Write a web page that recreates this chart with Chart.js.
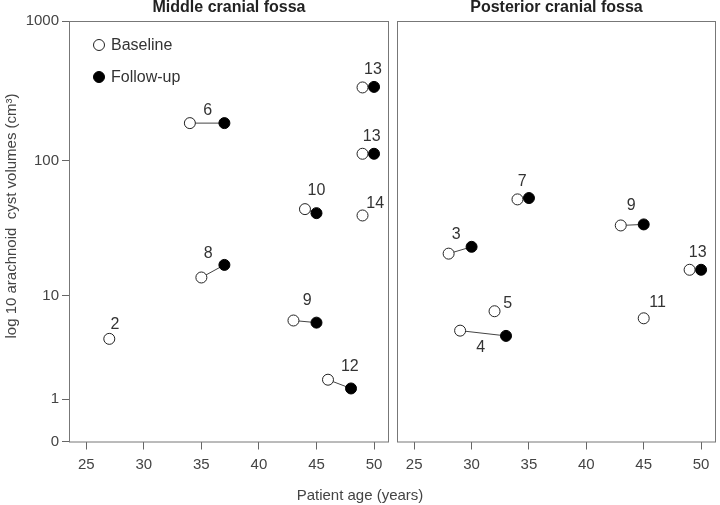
<!DOCTYPE html>
<html>
<head>
<meta charset="utf-8">
<script src="https://cdn.jsdelivr.net/npm/chart.js@4/dist/chart.umd.min.js"></script>
<style>
  body { margin: 0; background: #fff; }
  #wrap { position: relative; width: 720px; height: 505px; font-family: "Liberation Sans", Arial, sans-serif; }
  .panel { position: absolute; top: 0; height: 505px; }
  #xtitle { position: absolute; left: 210px; width: 300px; top: 486px; text-align: center; font-size: 15px; color: #444; }
</style>
</head>
<body>
<div id="wrap">
  <div class="panel" style="left:0;width:392px"><canvas id="middle"></canvas></div>
  <div class="panel" style="left:392px;width:328px"><canvas id="posterior"></canvas></div>
  <div id="xtitle">Patient age (years)</div>
</div>
<script>
    // Middle cranial fossa
    const midPatients = ['2', '6', '8', '9', '10', '12', '13', '13', '14'];
    const midBaseAge = [27, 34, 35, 43, 44, 46, 49, 49, 49];
    const midBaseVol = [4.4, 186, 13.8, 6.3, 44.5, 1.76, 335, 112, 40];
    const midFollowAge = [null, 37, 37, 45, 45, 48, 50, 50, null];
    const midFollowVol = [null, 186, 17.2, 6.05, 41.6, 1.39, 338, 112, null];
    const midLabelAge = [27.5, 35.55, 35.6, 44.2, 45.0, 47.9, 49.9, 49.8, 50.1];
    const midLabelVol = [5.8, 229, 20.9, 9.1, 61, 2.4, 453, 150, 49];

    // Posterior cranial fossa
    const postPatients = ['3', '4', '5', '7', '9', '11', '13'];
    const postBaseAge = [28, 29, 32, 34, 43, 45, 49];
    const postBaseVol = [20.9, 5.18, 7.5, 52.4, 33.8, 6.57, 15.8];
    const postFollowAge = [30, 33, null, 35, 45, null, 50];
    const postFollowVol = [23.5, 4.67, null, 53.6, 34.4, null, 15.8];
    const postLabelAge = [28.65, 30.8, 33.15, 34.4, 43.9, 46.2, 49.7];
    const postLabelVol = [28.9, 3.65, 8.7, 70, 47.4, 8.86, 21.2];

    const xTicks = [25, 30, 35, 40, 45, 50];
    const yTicks = [0, 1, 10, 100, 1000];
    const yTickLabels = ['0', '1', '10', '100', '1000'];

    // y axis is log10(v + 1)
    const toLog = v => Math.log10(v + 1);
    const FONT = '"Liberation Sans", Arial, sans-serif';

    function buildDatasets(baseAge, baseVol, followAge, followVol) {
        const base = baseAge.map((a, i) => ({ x: a, y: toLog(baseVol[i]) }));
        const follow = [];
        const links = [];
        followAge.forEach((a, i) => {
            if (a === null) return;
            follow.push({ x: a, y: toLog(followVol[i]) });
            links.push({ x: baseAge[i], y: toLog(baseVol[i]) });
            links.push({ x: a, y: toLog(followVol[i]) });
            links.push({ x: a, y: null });
        });
        return [
            {
                label: 'Baseline', data: base, order: 1,
                pointRadius: 5.5, pointHoverRadius: 5.5,
                backgroundColor: '#fff', borderColor: '#222', borderWidth: 1
            },
            {
                label: 'Follow-up', data: follow, order: 1,
                pointRadius: 5.5, pointHoverRadius: 5.5,
                backgroundColor: '#000', borderColor: '#000', borderWidth: 1
            },
            {
                label: 'link', data: links, order: 3, showLine: true, spanGaps: false,
                pointRadius: 0, borderColor: '#444', borderWidth: 1
            }
        ];
    }

    const panelPlugin = {
        id: 'panel',
        afterDraw(chart, args, opts) {
            const { ctx, chartArea: a, scales } = chart;
            ctx.save();
            ctx.strokeStyle = '#777';
            ctx.lineWidth = 1;
            ctx.strokeRect(a.left + 0.5, a.top + 0.5, a.right - a.left - 1, a.bottom - a.top);
            // panel title
            ctx.fillStyle = '#222';
            ctx.font = 'bold 16px ' + FONT;
            ctx.textAlign = 'center';
            ctx.textBaseline = 'middle';
            ctx.fillText(opts.title, (a.left + a.right) / 2, 8);
            // patient numbers
            ctx.fillStyle = '#333';
            ctx.font = '16px ' + FONT;
            opts.labels.forEach((t, i) => {
                ctx.fillText(t, scales.x.getPixelForValue(opts.labelAge[i]),
                    scales.y.getPixelForValue(toLog(opts.labelVol[i])));
            });
            if (opts.legend) {
                // y axis title
                ctx.save();
                ctx.translate(12, 216);
                ctx.rotate(-Math.PI / 2);
                ctx.fillStyle = '#444';
                ctx.font = '15px ' + FONT;
                ctx.fillText('log 10 arachnoid  cyst volumes (cm³)', 0, 0);
                ctx.restore();
                // legend
                const ds = chart.data.datasets;
                ctx.textAlign = 'left';
                [0, 1].forEach(k => {
                    const cx = a.left + 30, cy = a.top + 24 + k * 32;
                    ctx.beginPath();
                    ctx.arc(cx, cy, 5.5, 0, Math.PI * 2);
                    ctx.fillStyle = ds[k].backgroundColor;
                    ctx.fill();
                    ctx.strokeStyle = ds[k].borderColor;
                    ctx.stroke();
                    ctx.fillStyle = '#333';
                    ctx.fillText(ds[k].label, cx + 12, cy + 1);
                });
            }
            ctx.restore();
        }
    };

    function makeChart(id, title, datasets, labelInfo, left) {
        return new Chart(document.getElementById(id), {
            type: 'scatter',
            data: { datasets },
            plugins: [panelPlugin],
            options: {
                responsive: true,
                maintainAspectRatio: false,
                animation: false,
                layout: {
                    autoPadding: false,
                    padding: left ? { top: 21, right: 3, left: 0, bottom: 0 } : { top: 21, right: 4, left: 5, bottom: 0 }
                },
                plugins: {
                    legend: { display: false },
                    tooltip: { enabled: false },
                    panel: Object.assign({ title, legend: left }, labelInfo)
                },
                scales: {
                    x: {
                        type: 'linear', min: 23.5, max: 51.3,
                        afterBuildTicks: s => { s.ticks = xTicks.map(v => ({ value: v })); },
                        afterFit: s => { s.height = 63.5; s.paddingLeft = 0; s.paddingRight = 0; },
                        border: { display: false },
                        grid: { drawOnChartArea: false, drawTicks: true, tickLength: 8, color: '#666' },
                        ticks: { color: '#444', font: { family: FONT, size: 15 }, padding: 6, maxRotation: 0 }
                    },
                    y: {
                        type: 'linear', min: 0, max: toLog(1000),
                        display: left,
                        afterBuildTicks: s => { s.ticks = yTicks.map(v => ({ value: toLog(v) })); },
                        afterFit: s => { s.width = left ? 69 : 0; s.paddingTop = 0; s.paddingBottom = 0; },
                        border: { display: false },
                        grid: { drawOnChartArea: false, drawTicks: true, tickLength: 7, color: '#666' },
                        ticks: {
                            color: '#444', font: { family: FONT, size: 15 }, padding: 3,
                            callback: (v, i) => yTickLabels[i]
                        }
                    }
                }
            }
        });
    }

    makeChart('middle', 'Middle cranial fossa',
        buildDatasets(midBaseAge, midBaseVol, midFollowAge, midFollowVol),
        { labels: midPatients, labelAge: midLabelAge, labelVol: midLabelVol }, true);
    makeChart('posterior', 'Posterior cranial fossa',
        buildDatasets(postBaseAge, postBaseVol, postFollowAge, postFollowVol),
        { labels: postPatients, labelAge: postLabelAge, labelVol: postLabelVol }, false);
</script>
</body>
</html>
